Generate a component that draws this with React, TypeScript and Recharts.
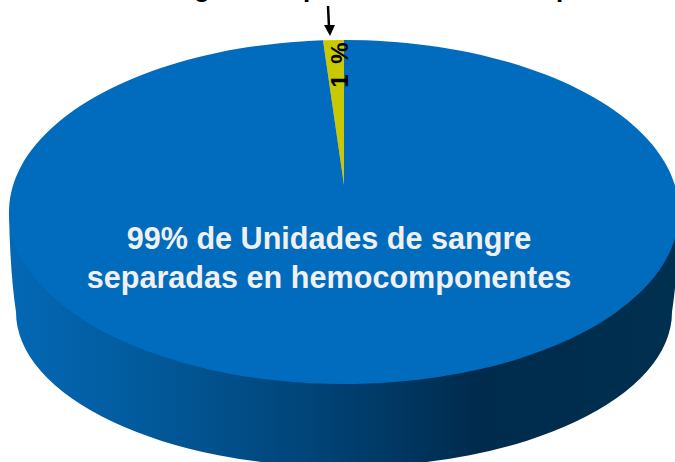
import React from 'react';
import { PieChart, Pie, Cell } from 'recharts';

const sliceNames = ['Sin separar', 'Separadas'];
const sliceValues = [1, 99];
const sliceColors = ['#C9C900', '#016CBD'];
const wallValues = [100];
const lineOne = '99% de Unidades de sangre';
const lineTwo = 'separadas en hemocomponentes';
const smallLabel = '1 %';

const pieData = sliceNames.map((name, i) => ({ name, value: sliceValues[i] }));
const wallData = wallValues.map((value) => ({ name: 'Lado', value }));

// the picture is a tilted pie in perspective, so the centre point sits above the ellipse middle
const TILT = 172 / 335;
const APEX_SHIFT = -27;
const WALL_DROP = 100;
const WALL_RX = 328;
const WALL_RY = 155;

const FlatSlice = (props: any) => {
  const { cx, cy, outerRadius, startAngle, endAngle, fill } = props;
  const ry = outerRadius * TILT;
  const pt = (deg: number) => {
    const a = (deg * Math.PI) / 180;
    return [cx + outerRadius * Math.cos(a), cy - ry * Math.sin(a)];
  };
  const [x1, y1] = pt(startAngle);
  const [x2, y2] = pt(endAngle);
  const large = Math.abs(endAngle - startAngle) > 180 ? 1 : 0;
  const d = `M${cx},${cy + APEX_SHIFT} L${x1},${y1} A${outerRadius},${ry} 0 ${large} 0 ${x2},${y2} Z`;
  return <path d={d} fill={fill} />;
};

const WallSlice = (props: any) => {
  const { cx, cy, outerRadius } = props;
  const by = cy + WALL_DROP;
  const left = cx - outerRadius;
  const right = cx + outerRadius;
  const d =
    `M${left},${cy} Q${left + 1},${by - 40} ${cx - WALL_RX},${by} ` +
    `A${WALL_RX},${WALL_RY} 0 0 0 ${cx + WALL_RX},${by} ` +
    `Q${right - 1},${by - 40} ${right},${cy} Z`;
  return <path d={d} fill="url(#wallGradient)" />;
};

const sliceLabel = (props: any) => {
  const { index, cx, cy } = props;
  if (index === 0) {
    return (
      <text
        x={0}
        y={0}
        transform={`translate(${cx - 5},${cy - 148}) rotate(-90)`}
        textAnchor="middle"
        dominantBaseline="central"
        fontSize={24}
        fontWeight={700}
        fill="#000"
        style={{ letterSpacing: 2 }}
      >
        {smallLabel}
      </text>
    );
  }
  return (
    <text
      x={cx - 15}
      textAnchor="middle"
      fontSize={30.6}
      fontWeight={700}
      fill="#F0F0F0"
    >
      <tspan x={cx - 15} y={cy + 37}>{lineOne}</tspan>
      <tspan x={cx - 15} y={cy + 76}>{lineTwo}</tspan>
    </text>
  );
};

export default function App() {
  return (
    <div style={{ position: 'absolute', left: 0, top: 0, width: 675, height: 462, overflow: 'hidden', background: '#fff', fontFamily: '"Liberation Sans", Arial, sans-serif' }}>
      <PieChart width={675} height={462} margin={{ top: 0, right: 0, bottom: 0, left: 0 }}>
        <defs>
          <linearGradient id="wallGradient" x1="0" y1="0" x2="1" y2="0">
            <stop offset="0" stopColor="#0468B5" />
            <stop offset="0.2" stopColor="#025A9C" />
            <stop offset="0.45" stopColor="#014478" />
            <stop offset="0.7" stopColor="#002B4D" />
            <stop offset="1" stopColor="#00304F" />
          </linearGradient>
        </defs>
        <Pie
          data={wallData}
          dataKey="value"
          cx={344}
          cy={212}
          outerRadius={335}
          startAngle={90}
          endAngle={450}
          stroke="none"
          shape={WallSlice}
          isAnimationActive={false}
        />
        <Pie
          data={pieData}
          dataKey="value"
          nameKey="name"
          cx={344}
          cy={212}
          outerRadius={335}
          startAngle={90}
          endAngle={450}
          stroke="none"
          shape={FlatSlice}
          label={sliceLabel}
          labelLine={false}
          isAnimationActive={false}
        >
          {pieData.map((d, i) => (
            <Cell key={d.name} fill={sliceColors[i]} />
          ))}
        </Pie>
        {/* arrow down to the small slice */}
        <line x1={328} y1={6} x2={329} y2={27} stroke="#000" strokeWidth={2.5} />
        <path d="M324,25 L335,25 L330,36 Z" fill="#000" />
        {/* title is cut off by the picture edge, only descenders show */}
        <text x={194} y={-3} fontSize={26} fontWeight={700} fill="#000">g</text>
        <text x={303} y={-3} fontSize={26} fontWeight={700} fill="#000">p</text>
        <text x={556} y={-3} fontSize={26} fontWeight={700} fill="#000">p</text>
      </PieChart>
    </div>
  );
}
